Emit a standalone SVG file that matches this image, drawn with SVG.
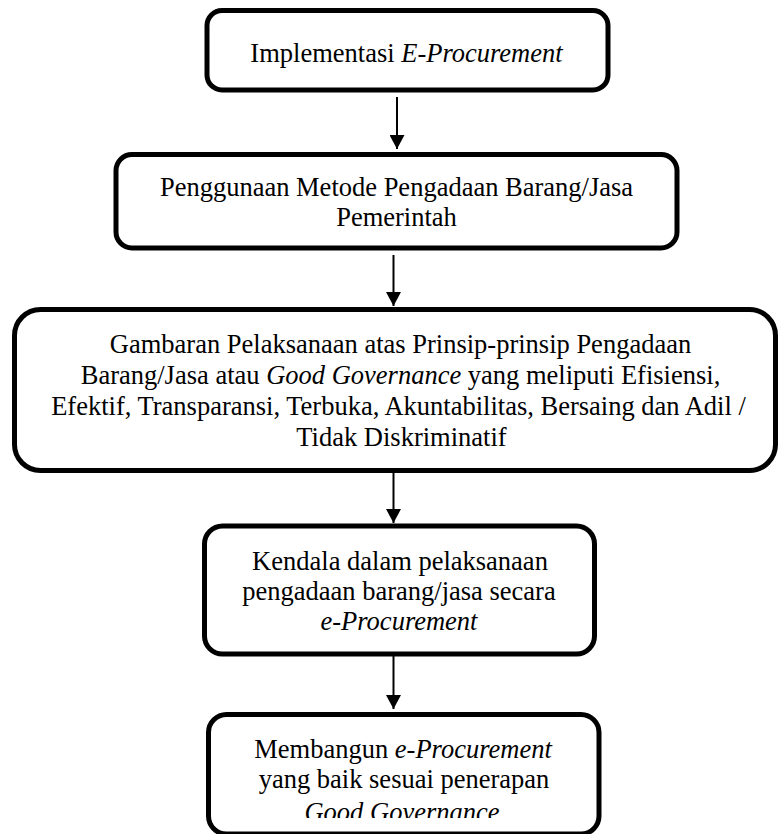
<svg xmlns="http://www.w3.org/2000/svg" width="778" height="834" viewBox="0 0 778 834">
<style>
.box{fill:#fff;stroke:#000;stroke-width:5}
.t{font-family:"Liberation Serif","Times New Roman",serif;font-size:26.5px;fill:#000;text-anchor:middle}
.i{font-style:italic}
.c{stroke:#000;stroke-width:2;fill:none}
</style>
<defs>
<marker id="ah" viewBox="0 0 14 15" refX="14" refY="7.5" markerWidth="14" markerHeight="15" markerUnits="userSpaceOnUse" orient="auto">
<path d="M0,0 L14,7.5 L0,15 z" fill="#000"/>
</marker>
<clipPath id="clip5"><rect x="0" y="700" width="778" height="118"/></clipPath>
</defs>
<rect width="778" height="834" fill="#fff"/>
<g id="n1">
<rect class="box" x="207" y="10.5" width="401" height="79.5" rx="15"/>
<text class="t" x="406.5" y="61.5">Implementasi <tspan class="i">E-Procurement</tspan></text>
</g>
<g id="n2">
<rect class="box" x="116" y="154.5" width="561" height="93.5" rx="16"/>
<text class="t" x="396.5" y="196">Penggunaan Metode Pengadaan Barang/Jasa</text>
<text class="t" x="396.5" y="226">Pemerintah</text>
</g>
<g id="n3">
<rect class="box" x="14.5" y="309.5" width="761" height="161" rx="26"/>
<text class="t" x="400.5" y="353">Gambaran Pelaksanaan atas Prinsip-prinsip Pengadaan</text>
<text class="t" x="400.5" y="384">Barang/Jasa atau <tspan class="i">Good Governance</tspan> yang meliputi Efisiensi,</text>
<text class="t" x="398.5" y="415">Efektif, Transparansi, Terbuka, Akuntabilitas, Bersaing dan Adil /</text>
<text class="t" x="401.5" y="446">Tidak Diskriminatif</text>
</g>
<g id="n4">
<rect class="box" x="204.5" y="526" width="390" height="128" rx="18"/>
<text class="t" x="400" y="569.5">Kendala dalam pelaksanaan</text>
<text class="t" x="399" y="599.5">pengadaan barang/jasa secara</text>
<text class="t i" x="399" y="630">e-Procurement</text>
</g>
<g id="n5">
<rect class="box" x="208.5" y="714.5" width="390.5" height="119.5" rx="18"/>
<text class="t" x="403" y="758">Membangun <tspan class="i">e-Procurement</tspan></text>
<text class="t" x="404" y="787.5">yang baik sesuai penerapan</text>
<text class="t i" x="402" y="820.5" clip-path="url(#clip5)">Good Governance</text>
</g>
<g id="connectors">
<line class="c" x1="397" y1="97" x2="397" y2="149" marker-end="url(#ah)"/>
<line class="c" x1="393.5" y1="255" x2="393.5" y2="306" marker-end="url(#ah)"/>
<line class="c" x1="393.5" y1="473" x2="393.5" y2="523" marker-end="url(#ah)"/>
<line class="c" x1="393.5" y1="656" x2="393.5" y2="709" marker-end="url(#ah)"/>
</g>
</svg>
